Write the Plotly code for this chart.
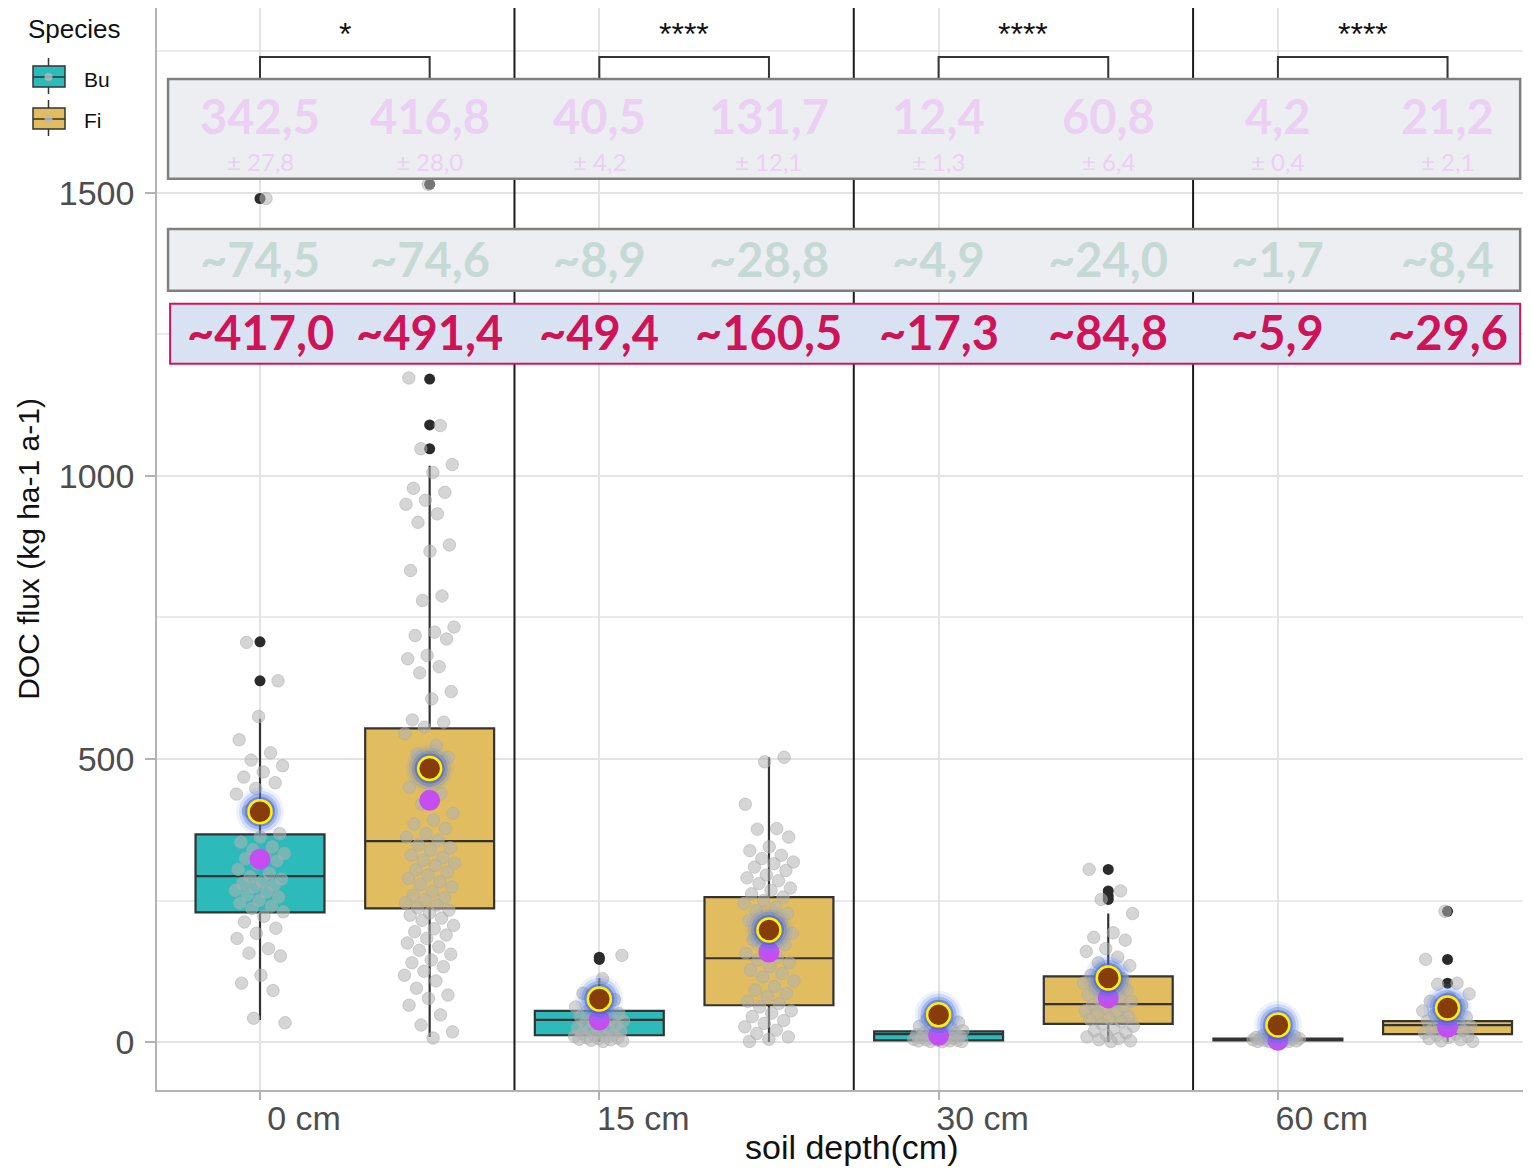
import plotly.graph_objects as go

# ---------------- data ----------------
depths = ["0 cm", "15 cm", "30 cm", "60 cm"]
species = ["Bu", "Fi"]
stars = ["*", "****", "****", "****"]

# box statistics
bu_q1 = [229, 12, 3, 3]
bu_med = [293, 39, 14, 5]
bu_q3 = [367, 55, 19, 6]
bu_lo = [39, 0, 0, 0]
bu_hi = [571, 113, 40, 14]

fi_q1 = [236, 65, 32, 14]
fi_med = [355, 148, 67, 30]
fi_q3 = [554, 256, 116, 37]
fi_lo = [9, 0, 0, 0]
fi_hi = [1018, 503, 227, 80]

# outliers (dark points)
bu_out = [[1490, 707, 638], [150, 146], [], []]
fi_out = [[1515, 1171, 1090, 1048], [], [305, 267, 258, 252], [231, 146, 104]]

# raw observations (jittered grey points)
bu_obs = [
    [1490, 706, 638, 575, 534, 511, 498, 488, 477, 468, 458, 448, 438, 412, 408, 368, 362, 353, 345, 340,
     333, 328, 324, 320, 315, 305, 298, 292, 288, 284, 280, 277, 274, 268, 265, 260, 256, 250, 245, 240,
     236, 230, 222, 212, 201, 192, 183, 165, 157, 152, 118, 104, 91, 42, 34],
    [153, 112, 86, 75, 68, 62, 58, 55, 50, 47, 45, 42, 40, 37, 35, 33, 30, 28, 25, 23, 21, 19, 17, 15, 13,
     12, 10, 9, 8, 7, 6, 5, 4, 3, 2, 1],
    [40, 35, 31, 28, 25, 22, 20, 18, 16, 15, 14, 13, 12, 11, 10, 9, 8, 7, 6, 5, 4, 4, 3, 3, 2, 2, 1, 1, 0.5],
    [14, 12, 10, 9, 8, 7, 7, 6, 6, 5, 5, 4, 4, 3, 3, 2, 2, 1, 1, 0.5],
]
fi_obs = [
    [1515, 1173, 1089, 1048, 1020, 1006, 978, 971, 957, 950, 933, 918, 878, 867, 833, 788, 780, 733, 724,
     718, 712, 683, 677, 663, 652, 619, 606, 569, 565, 556, 545, 524, 509, 503, 462, 450, 439, 420, 404,
     392, 385, 377, 368, 362, 356, 348, 343, 339, 330, 326, 321, 316, 312, 304, 300, 295, 289, 283, 278,
     274, 266, 259, 255, 251, 246, 242, 237, 233, 228, 224, 219, 215, 206, 200, 195, 189, 183, 175, 168,
     162, 155, 145, 140, 133, 125, 118, 108, 95, 83, 77, 65, 48, 30, 18, 7],
    [503, 495, 420, 377, 376, 362, 345, 338, 330, 324, 318, 315, 309, 303, 295, 290, 285, 280, 272, 268,
     262, 256, 250, 245, 238, 232, 227, 220, 215, 209, 200, 192, 186, 180, 172, 165, 157, 150, 145, 140,
     133, 127, 121, 115, 108, 98, 92, 86, 80, 72, 68, 62, 55, 51, 45, 38, 33, 27, 21, 15, 9, 5, 1],
    [305, 267, 252, 227, 193, 185, 180, 165, 160, 150, 140, 135, 125, 118, 112, 108, 104, 98, 95, 92, 86,
     83, 80, 75, 72, 70, 65, 62, 60, 55, 52, 50, 45, 42, 40, 36, 32, 28, 24, 20, 16, 12, 9, 6, 4, 2, 1],
    [231, 146, 104, 102, 85, 78, 72, 65, 60, 55, 52, 48, 44, 40, 37, 34, 31, 28, 25, 22, 20, 18, 16, 14,
     12, 10, 8, 6, 4, 2, 1],
]

# summary markers (positions)
bu_mean_pt = [323, 39, 12, 3]
fi_mean_pt = [427, 159, 78, 26]
bu_upper_pt = [407, 76, 48, 30]
fi_upper_pt = [483, 198, 113, 60]

# text rows
mean_txt = ["342,5", "416,8", "40,5", "131,7", "12,4", "60,8", "4,2", "21,2"]
se_txt = ["± 27,8", "± 28,0", "± 4,2", "± 12,1", "± 1,3", "± 6,4", "± 0,4", "± 2,1"]
ci_txt = ["~74,5", "~74,6", "~8,9", "~28,8", "~4,9", "~24,0", "~1,7", "~8,4"]
up_txt = ["~417,0", "~491,4", "~49,4", "~160,5", "~17,3", "~84,8", "~5,9", "~29,6"]
x_title = "soil depth(cm)"
y_title = "DOC flux (kg ha-1 a-1)"

# ---------------- style ----------------
TEAL = "#2CBBBA"
GOLD = "#E1BD5F"
DARK = "#333333"
FONT = "Liberation Sans, Arial, sans-serif"
VFONT = "Lato, Noto Sans, sans-serif"
FI_OFF = 0.5
BOXW = 0.38

bu_x = [i for i in range(len(depths))]
fi_x = [i + FI_OFF for i in range(len(depths))]
all_x = []
for i in range(len(depths)):
    all_x += [bu_x[i], fi_x[i]]

fig = go.Figure()

fig.add_trace(go.Box(x=bu_x, q1=bu_q1, median=bu_med, q3=bu_q3, lowerfence=bu_lo, upperfence=bu_hi,
                     name="Bu", fillcolor=TEAL, line=dict(color=DARK, width=2.2), whiskerwidth=0,
                     width=BOXW, boxpoints=False, showlegend=False, hoverinfo="skip"))
fig.add_trace(go.Box(x=fi_x, q1=fi_q1, median=fi_med, q3=fi_q3, lowerfence=fi_lo, upperfence=fi_hi,
                     name="Fi", fillcolor=GOLD, line=dict(color=DARK, width=2.2), whiskerwidth=0,
                     width=BOXW, boxpoints=False, showlegend=False, hoverinfo="skip"))


def jitter(n, k0):
    return [(((k + k0 + 1) * 0.6180339887) % 1 - 0.5) * 0.15 for k in range(n)]


# dark outliers
ox, oy = [], []
for i in range(len(depths)):
    for xs, outs in ((bu_x[i], bu_out[i]), (fi_x[i], fi_out[i])):
        ox += [xs] * len(outs)
        oy += outs
fig.add_trace(go.Scatter(x=ox, y=oy, mode="markers", showlegend=False, hoverinfo="skip",
                         marker=dict(size=11, color="#2B2B2B")))

# jittered observations
jx, jy = [], []
for i in range(len(depths)):
    for g, (xs, obs) in enumerate(((bu_x[i], bu_obs[i]), (fi_x[i], fi_obs[i]))):
        offs = jitter(len(obs), i * 7 + g * 3)
        jx += [xs + o for o in offs]
        jy += obs
fig.add_trace(go.Scatter(x=jx, y=jy, mode="markers", showlegend=False, hoverinfo="skip",
                         marker=dict(size=12.5, color="rgba(178,178,178,0.55)",
                                     line=dict(color="rgba(170,170,170,0.5)", width=1))))

# purple mean markers
mpx, mpy, upy = [], [], []
for i in range(len(depths)):
    mpx += [bu_x[i], fi_x[i]]
    mpy += [bu_mean_pt[i], fi_mean_pt[i]]
    upy += [bu_upper_pt[i], fi_upper_pt[i]]
fig.add_trace(go.Scatter(x=mpx, y=mpy, mode="markers", showlegend=False, hoverinfo="skip",
                         marker=dict(size=21, color="#C64DF2", line=dict(width=0))))
# glow + brown markers
for sz, col in ((48, "rgba(110,150,235,0.12)"), (42, "rgba(90,130,230,0.2)"),
                (36, "rgba(70,110,225,0.32)"), (30, "rgba(55,90,215,0.5)")):
    fig.add_trace(go.Scatter(x=mpx, y=upy, mode="markers", showlegend=False, hoverinfo="skip",
                             marker=dict(size=sz, color=col, line=dict(width=0))))
fig.add_trace(go.Scatter(x=mpx, y=upy, mode="markers", showlegend=False, hoverinfo="skip",
                         marker=dict(size=23, color="#863C0B", line=dict(color="#FFF200", width=2.5))))

# ---------------- shapes ----------------
shapes = []
for i in range(len(depths) - 1):
    xs = (fi_x[i] + bu_x[i + 1]) / 2
    shapes.append(dict(type="line", xref="x", yref="paper", x0=xs, x1=xs, y0=0, y1=1,
                       line=dict(color="#1A1A1A", width=2), layer="above"))
for i in range(len(depths)):
    shapes.append(dict(type="path", xref="x", yref="y",
                       path=f"M {bu_x[i]},1690 L {bu_x[i]},1740 L {fi_x[i]},1740 L {fi_x[i]},1690",
                       line=dict(color=DARK, width=2), layer="above"))
X0, X1 = -0.271, 3.714
shapes.append(dict(type="rect", xref="x", yref="y", x0=X0, x1=X1, y0=1525, y1=1701,
                   fillcolor="#EDEEF2", line=dict(color="#7F7F7F", width=2.5), layer="above"))
shapes.append(dict(type="rect", xref="x", yref="y", x0=X0, x1=X1, y0=1327, y1=1436,
                   fillcolor="#EDEEF2", line=dict(color="#7F7F7F", width=2.5), layer="above"))
shapes.append(dict(type="rect", xref="x", yref="y", x0=X0 + 0.006, x1=X1, y0=1198, y1=1304,
                   fillcolor="#D9E2F3", line=dict(color="#D4145A", width=2), layer="above"))

# ---------------- annotations ----------------
ann = []
for k, xv in enumerate(all_x):
    ann.append(dict(x=xv, y=1636, xref="x", yref="y", text=f"<b>{mean_txt[k]}</b>", showarrow=False,
                    font=dict(family=VFONT, size=47, color="#EBD0F3")))
    ann.append(dict(x=xv, y=1555, xref="x", yref="y", text=se_txt[k], showarrow=False,
                    font=dict(family=VFONT, size=24, color="#EBD0F3")))
    ann.append(dict(x=xv, y=1384, xref="x", yref="y", text=f"<b>{ci_txt[k]}</b>", showarrow=False,
                    font=dict(family=VFONT, size=47, color="#C5D9D5")))
    ann.append(dict(x=xv, y=1254, xref="x", yref="y", text=f"<b>{up_txt[k]}</b>", showarrow=False,
                    font=dict(family=VFONT, size=47, color="#D01257")))
for i in range(len(depths)):
    ann.append(dict(x=(bu_x[i] + fi_x[i]) / 2, y=1781, xref="x", yref="y", text=stars[i], showarrow=False,
                    font=dict(family=FONT, size=32, color="#111111")))

# page body has an 8px margin; size the figure so the page never overflows the
# 1531x1175 window, and the plot panel starts at x=157, y=8 and ends at y=1090
BODY = 8
W, H = 1531 - 2 * BODY, 1175 - 2 * BODY
L, T = 157 - BODY, 0
B = (H + BODY) - 1090
PW, PH = W - L, H - T - B
XR = (W + BODY - 260) / 339.3


def pxx(px):
    return (px - BODY - L) / PW


def pyy(py):
    return (T + PH - (py - BODY)) / PH


# x axis title (kept inside the figure's bottom edge)
ann.append(dict(x=pxx(852), y=pyy(1167), xref="paper", yref="paper", xanchor="center", yanchor="bottom",
                text=x_title, showarrow=False, borderpad=0,
                font=dict(family=FONT, size=34, color="#111111")))

ann.append(dict(x=pxx(26), y=pyy(29), xref="paper", yref="paper", xanchor="left", yanchor="middle",
                text="Species", showarrow=False, font=dict(family=FONT, size=26, color="#111111")))
for sp, col, cy in (("Bu", TEAL, 77), ("Fi", GOLD, 119)):
    shapes.append(dict(type="line", xref="paper", yref="paper", x0=pxx(48.5), x1=pxx(48.5),
                       y0=pyy(cy - 19), y1=pyy(cy + 17), line=dict(color=DARK, width=1.5)))
    shapes.append(dict(type="rect", xref="paper", yref="paper", x0=pxx(33), x1=pxx(65),
                       y0=pyy(cy - 11), y1=pyy(cy + 10), fillcolor=col, line=dict(color=DARK, width=1.5)))
    shapes.append(dict(type="line", xref="paper", yref="paper", x0=pxx(33), x1=pxx(65),
                       y0=pyy(cy), y1=pyy(cy), line=dict(color=DARK, width=1.5)))
    shapes.append(dict(type="circle", xref="paper", yref="paper", x0=pxx(44.5), x1=pxx(52.5),
                       y0=pyy(cy - 4), y1=pyy(cy + 4), fillcolor="rgba(185,185,185,0.8)",
                       line=dict(width=0)))
    ann.append(dict(x=pxx(82), y=pyy(cy + 2), xref="paper", yref="paper", xanchor="left", yanchor="middle",
                    text=sp, showarrow=False, font=dict(family=FONT, size=21, color="#111111")))

fig.update_layout(
    width=W, height=H,
    margin=dict(l=L, r=0, t=T, b=B, autoexpand=False),
    plot_bgcolor="white", paper_bgcolor="white",
    boxmode="overlay",
    shapes=shapes, annotations=ann,
    showlegend=False,
    xaxis=dict(range=[-0.3036, XR], tickvals=bu_x, ticktext=depths,
               showgrid=True, gridcolor="#E3E3E3", gridwidth=2, zeroline=False,
               ticks="outside", ticklen=8, tickcolor="#B3B3B3", tickwidth=1.5,
               tickfont=dict(family=FONT, size=34, color="#4D4D4D"), ticklabelshift=44,
               ticklabelstandoff=-11,
               showline=True, mirror=True, linecolor="#B3B3B3", linewidth=1.5),
    yaxis=dict(range=[-84.7, 1826.5], tickvals=[0, 500, 1000, 1500],
               showgrid=True, gridcolor="#E3E3E3", gridwidth=2, zeroline=False,
               minor=dict(tickvals=[250, 750, 1250, 1750], showgrid=True, gridcolor="#EAEAEA", gridwidth=1.5),
               ticks="outside", ticklen=10, tickcolor="#B3B3B3", tickwidth=1.5,
               tickfont=dict(family=FONT, size=34, color="#4D4D4D"), ticklabelstandoff=4,
               showline=True, mirror=False, linecolor="#B3B3B3", linewidth=1.5,
               title=dict(text=y_title, font=dict(family=FONT, size=30, color="#111111"),
                          standoff=10)),
)

fig.write_html("out.html")
